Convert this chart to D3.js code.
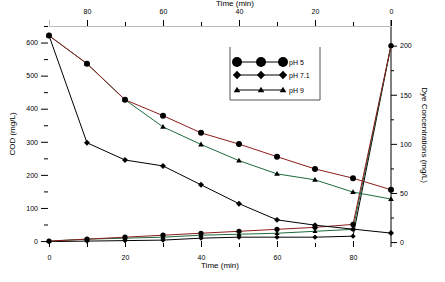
<!DOCTYPE html>
<html><head><meta charset="utf-8">
<script src="https://cdn.jsdelivr.net/npm/d3@7"></script>
<style>body{margin:0;background:#fff}svg{display:block;font-family:"Liberation Sans",Arial,sans-serif}</style>
</head><body><svg id="c" width="445" height="282"></svg>
<script>
const time = [0,10,20,30,40,50,60,70,80,90];
const seriesNames = ["pH 5","pH 7.1","pH 9"];
const codPH5  = [621,536,427,379,327,293,255,218,190,155];
const codPH71 = [621,297,245,227,170,113,64,48,36,24];
const codPH9  = [621,536,427,345,292,243,203,185,148,127];
const dyePH5  = [200,18,15,13,11,9,7,5,3,1];
const dyePH71 = [200,6,5,5,5,4,2,1.5,1,0.5];
const dyePH9  = [200,13,11,9,8,7,5,4,3,1];
const codTicks = [0,100,200,300,400,500,600];
const dyeTicks = [0,50,100,150,200];
const timeTicks = [0,20,40,60,80];

const svg = d3.select("#c");
const x = d3.scaleLinear().domain([0,90]).range([49,391]);
const xTop = d3.scaleLinear().domain([90,0]).range([49,391]);
const yL = d3.scaleLinear().domain([-18,650]).range([247,26]);
const yR = d3.scaleLinear().domain([-5,220]).range([247,26]);

const lineColors = ["#8a1c1c","#000","#1e6a3c"];
const shapes = ["circle","diamond","triangle"];

function marker(g, shape, cx, cy, s){
  if(shape==="circle") g.append("circle").attr("cx",cx).attr("cy",cy).attr("r",s).attr("fill","#000");
  else if(shape==="diamond") g.append("path").attr("d",`M${cx},${cy-s*1.15}L${cx+s*1.15},${cy}L${cx},${cy+s*1.15}L${cx-s*1.15},${cy}Z`).attr("fill","#000");
  else g.append("path").attr("d",`M${cx},${cy-s*1.1}L${cx+s*1.1},${cy+s*0.75}L${cx-s*1.1},${cy+s*0.75}Z`).attr("fill","#000");
}

// axes
const fs = "7px";
const leftAx = svg.append("g").attr("transform","translate(48,0)")
  .call(d3.axisLeft(yL).tickValues(codTicks).tickSize(7).tickPadding(3));
leftAx.select(".domain").remove();
leftAx.selectAll("text").style("font-size",fs);
svg.append("g").attr("transform","translate(48,0)")
  .call(d3.axisLeft(yL).tickValues([50,150,250,350,450,550,650]).tickSize(4).tickFormat(""))
  .select(".domain").remove();

const rightAx = svg.append("g").attr("transform","translate(391,0)")
  .call(d3.axisRight(yR).tickValues(dyeTicks).tickSize(6).tickPadding(3));
rightAx.select(".domain").remove();
rightAx.selectAll("text").style("font-size",fs);
svg.append("g").attr("transform","translate(391,0)")
  .call(d3.axisRight(yR).tickValues([25,75,125,175]).tickSize(3).tickFormat(""))
  .select(".domain").remove();
svg.append("line").attr("x1",391).attr("x2",391).attr("y1",20).attr("y2",247).attr("stroke","#000");

const bottomAx = svg.append("g").attr("transform","translate(0,247)")
  .call(d3.axisBottom(x).tickValues(timeTicks).tickSize(-6).tickPadding(8));
bottomAx.select(".domain").remove();
bottomAx.selectAll("text").style("font-size",fs);
svg.append("g").attr("transform","translate(0,247)")
  .call(d3.axisBottom(x).tickValues([10,30,50,70]).tickSize(-4).tickFormat(""))
  .select(".domain").remove();

const topAx = svg.append("g").attr("transform","translate(0,26)")
  .call(d3.axisTop(xTop).tickValues(timeTicks).tickSize(6).tickPadding(6));
topAx.select(".domain").attr("stroke","#bbb");
topAx.selectAll("text").style("font-size",fs);
svg.append("g").attr("transform","translate(0,26)")
  .call(d3.axisTop(xTop).tickValues([10,30,50,70]).tickSize(4).tickFormat(""))
  .select(".domain").remove();

// titles
svg.append("text").attr("x",220).attr("y",268).attr("text-anchor","middle").style("font-size","8px").text("Time (min)");
svg.append("text").attr("x",235).attr("y",6).attr("text-anchor","middle").style("font-size","8px").text("Time (min)");
svg.append("text").attr("transform","translate(15,134) rotate(-90)").attr("text-anchor","middle").style("font-size","8px").text("COD (mg/L)");
svg.append("text").attr("transform","translate(422,135) rotate(90)").attr("text-anchor","middle").style("font-size","8px").text("Dye Concentrations (mg/L)");

// data
const cod = [codPH5, codPH71, codPH9];
const dye = [dyePH5, dyePH71, dyePH9];
const plot = svg.append("g");
const order = [1,2,0];
order.forEach(i=>{
  const ld = d3.line().x((d,k)=>xTop(time[k])).y(d=>yR(d));
  plot.append("path").attr("d",ld(dye[i])).attr("fill","none").attr("stroke",lineColors[i]).attr("stroke-width",1);
  dye[i].forEach((v,k)=>marker(plot, shapes[i], xTop(time[k]), yR(v), i===0?2.6:2.3));
});
order.forEach(i=>{
  const lc = d3.line().x((d,k)=>x(time[k])).y(d=>yL(d));
  plot.append("path").attr("d",lc(cod[i])).attr("fill","none").attr("stroke",lineColors[i]).attr("stroke-width",1);
  cod[i].forEach((v,k)=>marker(plot, shapes[i], x(time[k]), yL(v), i===0?3:2.6));
});

// legend
const lg = svg.append("g");
lg.append("path").attr("d","M230,47V100H320V47").attr("fill","none").attr("stroke","#555").attr("stroke-width",1);
const ly = [62,75,90];
seriesNames.forEach((n,i)=>{
  lg.append("line").attr("x1",237).attr("x2",283).attr("y1",ly[i]).attr("y2",ly[i]).attr("stroke","#000");
  [237,261,283].forEach(cx=>marker(lg, shapes[i], cx, ly[i], i===0?5:(i===1?3.6:3)));
  lg.append("text").attr("x",289).attr("y",ly[i]+2.5).style("font-size","7px").text(n);
});
</script></body></html>
